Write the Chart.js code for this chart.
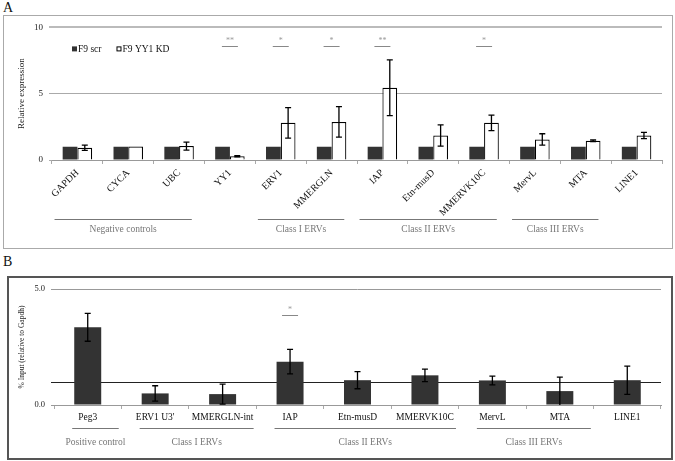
<!DOCTYPE html>
<html>
<head>
<meta charset="utf-8">
<script src="https://cdn.jsdelivr.net/npm/chart.js@4.4.1/dist/chart.umd.min.js"></script>
<style>
  body { margin: 0; background: #fff; width: 675px; height: 461px; overflow: hidden; position: relative; font-family: "Liberation Serif", "DejaVu Serif", "Noto Serif", serif; }
  .tag { position: absolute; font-size: 14px; color: #111; }
  .box { position: absolute; box-sizing: border-box; background: #fff; }
  #boxA { left: 3px; top: 15px; width: 670px; height: 234px; border: 1px solid #aaa; }
  #boxB { left: 7px; top: 276px; width: 666px; height: 184px; border: 2px solid #555; }
  canvas { display: block; }
</style>
</head>
<body>
<div class="tag" style="left:3px;top:0px;">A</div>
<div class="tag" style="left:3px;top:254px;">B</div>
<div class="box" id="boxA"><canvas id="chartA" width="668" height="232"></canvas></div>
<div class="box" id="boxB"><canvas id="chartB" width="662" height="180"></canvas></div>
<script>
// ---- panel A data ----
const labelsA = ['GAPDH', 'CYCA', 'UBC', 'YY1', 'ERV1', 'MMERGLN', 'IAP', 'Etn-musD', 'MMERVK10C', 'MervL', 'MTA', 'LINE1'];
const scrA = [1, 1, 1, 1, 1, 1, 1, 1, 1, 1, 1, 1];
const kdA = [0.92, 1.02, 1.05, 0.28, 2.8, 2.87, 5.45, 1.85, 2.8, 1.55, 1.45, 1.85];
const kdErrA = [0.2, 0, 0.3, 0.05, 1.15, 1.15, 2.1, 0.8, 0.58, 0.43, 0.06, 0.24];
const sigA = ['', '', '', '**', '*', '*', '**', '', '*', '', '', ''];
const groupNamesA = ['Negative controls', 'Class I ERVs', 'Class II ERVs', 'Class III ERVs'];
const groupFromA = [0, 4, 6, 9];
const groupToA = [2, 5, 8, 10];

// ---- panel B data ----
const labelsB = ['Peg3', "ERV1 U3'", 'MMERGLN-int', 'IAP', 'Etn-musD', 'MMERVK10C', 'MervL', 'MTA', 'LINE1'];
const valB = [3.35, 0.5, 0.47, 1.87, 1.07, 1.28, 1.06, 0.6, 1.07];
const errB = [0.6, 0.33, 0.43, 0.53, 0.37, 0.27, 0.19, 0.6, 0.61];
const sigB = ['', '', '', '*', '', '', '', '', ''];
const groupNamesB = ['Positive control', 'Class I ERVs', 'Class II ERVs', 'Class III ERVs'];
const groupFromB = [0, 1, 3, 6];
const groupToB = [0, 2, 5, 7];
const refLineB = 1.0;

const SERIF = "'Liberation Serif', 'DejaVu Serif', 'Noto Serif', serif";
const DARK = '#333333';

// draws error bars, significance marks, group brackets, legend, reference line
const extras = {
  id: 'extras',
  beforeDatasetsDraw(chart, args, o) {
    if (o.refLine == null) return;
    const ctx = chart.ctx, y = chart.scales.y, a = chart.chartArea;
    const py = Math.round(y.getPixelForValue(o.refLine)) + 0.5;
    ctx.save();
    ctx.strokeStyle = '#222';
    ctx.lineWidth = 1;
    ctx.beginPath();
    ctx.moveTo(a.left - 3, py);
    ctx.lineTo(a.right, py);
    ctx.stroke();
    ctx.restore();
  },
  afterDatasetsDraw(chart, args, o) {
    const ctx = chart.ctx, x = chart.scales.x, y = chart.scales.y, a = chart.chartArea;
    ctx.save();

    // error bars
    (o.errors || []).forEach((errs, di) => {
      if (!errs) return;
      const meta = chart.getDatasetMeta(di);
      const vals = chart.data.datasets[di].data;
      ctx.strokeStyle = '#000';
      ctx.lineWidth = 1.3;
      meta.data.forEach((bar, i) => {
        const e = errs[i];
        if (!e) return;
        const t = y.getPixelForValue(vals[i] + e);
        const b = y.getPixelForValue(Math.max(0, vals[i] - e));
        ctx.beginPath();
        ctx.moveTo(bar.x, t); ctx.lineTo(bar.x, b);
        ctx.moveTo(bar.x - 3, t); ctx.lineTo(bar.x + 3, t);
        if (vals[i] - e > 0) { ctx.moveTo(bar.x - 3, b); ctx.lineTo(bar.x + 3, b); }
        ctx.stroke();
      });
    });

    // significance marks
    if (o.sig) {
      const ly = Math.round(y.getPixelForValue(o.sigLevel)) + 0.5;
      ctx.font = '8px ' + SERIF;
      ctx.textAlign = 'center';
      ctx.textBaseline = 'bottom';
      o.sig.forEach((s, i) => {
        if (!s) return;
        const cx = x.getPixelForValue(i);
        ctx.strokeStyle = '#888';
        ctx.lineWidth = 1;
        ctx.beginPath();
        ctx.moveTo(cx - 8, ly); ctx.lineTo(cx + 8, ly);
        ctx.stroke();
        ctx.fillStyle = '#999';
        ctx.fillText(s, cx, ly - 2);
      });
    }

    // group brackets under the axis
    if (o.groups) {
      const g = o.groups;
      const w = x.getPixelForValue(1) - x.getPixelForValue(0);
      ctx.font = '9.5px ' + SERIF;
      ctx.textAlign = 'center';
      ctx.textBaseline = 'middle';
      g.names.forEach((name, k) => {
        const x0 = x.getPixelForValue(g.from[k]) + g.pad[0] * w;
        const x1 = x.getPixelForValue(g.to[k]) + g.pad[1] * w;
        const ly = Math.round(a.bottom + g.lineOffset) + 0.5;
        ctx.strokeStyle = '#777';
        ctx.lineWidth = 1;
        ctx.beginPath();
        ctx.moveTo(x0, ly); ctx.lineTo(x1, ly);
        ctx.stroke();
        ctx.fillStyle = '#777';
        ctx.fillText(name, (x0 + x1) / 2, a.bottom + g.textOffset);
      });
    }

    // legend inside the plot
    if (o.legend) {
      let lx = a.left + 20;
      const ly = a.top + 22;
      ctx.font = '9.5px ' + SERIF;
      ctx.textAlign = 'left';
      ctx.textBaseline = 'middle';
      chart.data.datasets.forEach(ds => {
        ctx.fillStyle = ds.backgroundColor;
        ctx.fillRect(lx, ly - 3, 5, 5);
        if (ds.borderWidth) {
          ctx.strokeStyle = '#000';
          ctx.lineWidth = 1;
          ctx.strokeRect(lx + 0.5, ly - 2.5, 4, 4);
        }
        ctx.fillStyle = '#111';
        ctx.fillText(ds.label, lx + 6, ly);
        lx += 6 + ctx.measureText(ds.label).width + 15;
      });
    }
    ctx.restore();
  }
};

new Chart(document.getElementById('chartA'), {
  type: 'bar',
  data: {
    labels: labelsA,
    datasets: [
      { label: 'F9 scr', data: scrA, backgroundColor: DARK, borderWidth: 0 },
      { label: 'F9 YY1 KD', data: kdA, backgroundColor: '#ffffff', borderColor: '#000', borderWidth: 1.2 }
    ]
  },
  options: {
    responsive: false,
    animation: false,
    layout: { padding: { left: 0, right: 10, top: 8, bottom: 0 } },
    datasets: { bar: { categoryPercentage: 0.58, barPercentage: 1.0 } },
    plugins: {
      legend: { display: false },
      tooltip: { enabled: false },
      extras: {
        errors: [null, kdErrA],
        sig: sigA, sigLevel: 8.6,
        groups: { names: groupNamesA, from: groupFromA, to: groupToA, pad: [-0.45, 0.25], lineOffset: 59, textOffset: 69 },
        legend: true
      }
    },
    scales: {
      x: {
        grid: { drawOnChartArea: false, drawTicks: true, tickLength: 4, color: '#aaa' },
        border: { display: true, color: '#999', width: 1 },
        ticks: { autoSkip: false, minRotation: 45, maxRotation: 45, padding: 3, color: '#111', font: { family: SERIF, size: 10 } },
        afterFit: s => { s.height = 88; }
      },
      y: {
        min: 0, max: 10,
        ticks: { stepSize: 5, padding: 6, color: '#222', font: { family: SERIF, size: 9 } },
        grid: {
          drawTicks: true, tickLength: 3,
          color: c => (c.tick && c.tick.value === 10 ? '#bbb' : '#aaa'),
          lineWidth: c => (c.tick && c.tick.value === 10 ? 2 : 1)
        },
        border: { display: false },
        title: { display: true, text: 'Relative expression', color: '#222', font: { family: SERIF, size: 9 }, padding: { top: 12.6, bottom: 0 } },
        afterFit: s => { s.width = 48; }
      }
    }
  },
  plugins: [extras]
});

new Chart(document.getElementById('chartB'), {
  type: 'bar',
  data: {
    labels: labelsB,
    datasets: [
      { label: '% Input', data: valB, backgroundColor: DARK, borderWidth: 0 }
    ]
  },
  options: {
    responsive: false,
    animation: false,
    layout: { padding: { left: 0, right: 10, top: 5, bottom: 0 } },
    datasets: { bar: { categoryPercentage: 0.4, barPercentage: 1.0 } },
    plugins: {
      legend: { display: false },
      tooltip: { enabled: false },
      extras: {
        refLine: refLineB,
        errors: [errB],
        sig: sigB, sigLevel: 3.88,
        groups: { names: groupNamesB, from: groupFromB, to: groupToB, pad: [-0.23, 0.46], lineOffset: 23, textOffset: 37 }
      }
    },
    scales: {
      x: {
        grid: { drawOnChartArea: false, drawTicks: true, tickLength: 4, color: '#aaa' },
        border: { display: true, color: '#999', width: 1 },
        ticks: { autoSkip: false, maxRotation: 0, padding: 3, color: '#111', font: { family: SERIF, size: 9.5 } },
        afterFit: s => { s.height = 53; }
      },
      y: {
        min: 0, max: 5,
        ticks: { stepSize: 5, padding: 6, color: '#222', font: { family: SERIF, size: 8.5 }, callback: v => v.toFixed(1) },
        grid: { drawTicks: true, tickLength: 3, color: '#999' },
        border: { display: false },
        title: { display: true, text: '% Input (relative to Gapdh)', color: '#222', font: { family: SERIF, size: 7.5 }, padding: { top: 9, bottom: 0 } },
        afterFit: s => { s.width = 45; }
      }
    }
  },
  plugins: [extras]
});
</script>
</body>
</html>
